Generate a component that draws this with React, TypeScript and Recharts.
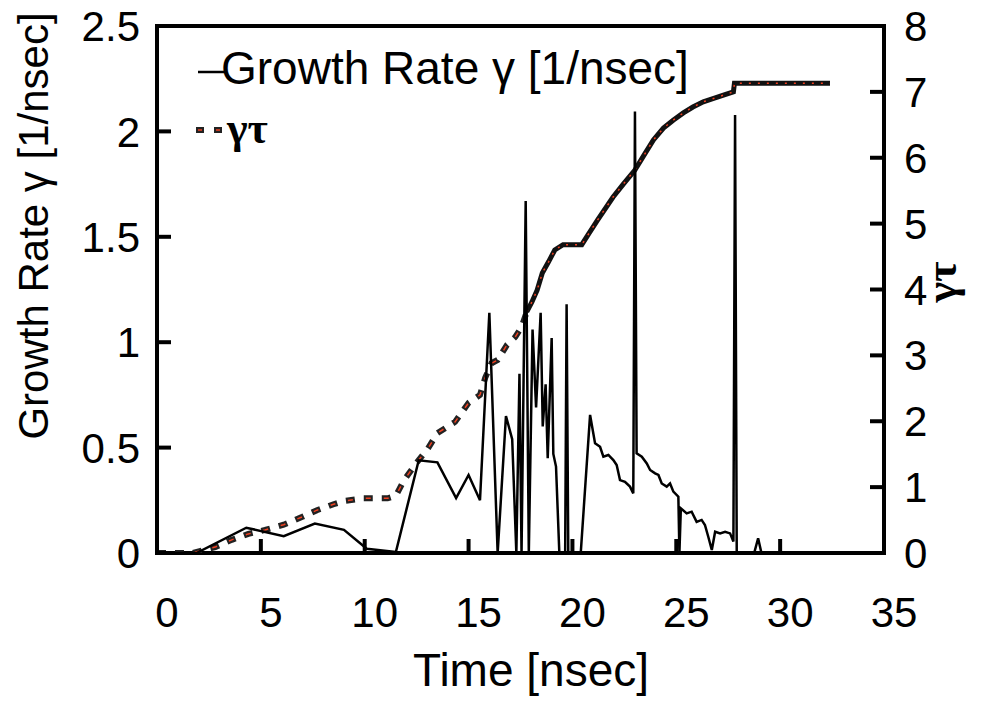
import React from 'react';
import { ComposedChart, Line, XAxis, YAxis, ReferenceArea, Legend } from 'recharts';

// Growth rate gamma [1/nsec] (left axis)
const gammaTime = [
  0, 1.9, 4.3, 6.1, 7.6, 9.0, 10.1, 11.5, 12.6, 13.5, 14.4, 15.0, 15.55, 16.0, 16.4, 16.8, 17.1, 17.3,
  17.45, 17.55, 17.75, 17.9, 18.08, 18.25, 18.47, 18.57, 18.71, 18.81, 19.0, 19.08, 19.21, 19.37, 19.65,
  19.72, 19.8, 20.4, 20.85, 21.09, 21.33, 21.49, 21.73, 21.97, 22.13, 22.29, 22.53, 22.77, 22.93, 23.01,
  23.09, 23.34, 23.58, 23.74, 23.98, 24.14, 24.3, 24.54, 24.7, 24.86, 25.1, 25.15, 25.22, 25.5, 25.74,
  25.98, 26.22, 26.38, 26.54, 26.71, 26.87, 27.11, 27.35, 27.59, 27.75, 27.83, 27.91, 28.75, 28.94, 29.1, 30.0,
];
const gammaValue = [
  0, 0, 0.12, 0.08, 0.14, 0.11, 0.02, 0.005, 0.44, 0.43, 0.26, 0.37, 0.25, 1.14, 0, 0.65, 0.54, 0,
  0.85, 0, 1.67, 0, 1.06, 0.69, 1.14, 0.6, 0.8, 0.45, 1.02, 0.47, 0.41, 0, 0,
  1.18, 0, 0, 0.655, 0.52, 0.504, 0.457, 0.465, 0.441, 0.417, 0.346, 0.338, 0.315, 0.283, 2.094,
  0.473, 0.457, 0.425, 0.394, 0.378, 0.37, 0.33, 0.315, 0.33, 0.291, 0.267, 0, 0.212, 0.188, 0.196,
  0.148, 0.157, 0.133, 0.077, 0.014, 0.101, 0.093, 0.101, 0.093, 0.054, 2.078, 0, 0, 0.07, 0, 0,
];

// gamma*tau (right axis), sparse dashed part
const gammaTauDashedTime = [
  0, 1.7, 2.8, 3.6, 4.4, 5.2, 6.1, 7.0, 7.7, 8.5, 9.0, 9.9, 11.1, 11.5, 11.9, 12.5, 13.05, 13.5,
  14.35, 15.0, 15.55, 15.8, 16.1, 16.4, 16.85, 17.25, 17.55, 17.8,
];
const gammaTauDashedValue = [
  0, 0, 0.09, 0.2, 0.29, 0.35, 0.43, 0.55, 0.65, 0.74, 0.79, 0.83, 0.83, 0.87, 1.11, 1.37, 1.59, 1.82,
  1.99, 2.28, 2.4, 2.66, 2.88, 2.93, 3.16, 3.28, 3.43, 3.66,
];
// gamma*tau (right axis), densely sampled part
const gammaTauDenseTime = [
  17.8, 18.05, 18.3, 18.55, 18.85, 19.15, 19.55, 20.45, 20.75, 21.2, 21.95, 22.45, 23.0, 23.41, 23.9,
  24.38, 24.85, 25.34, 25.8, 26.3, 26.8, 27.27, 27.75, 27.8, 32.4,
];
const gammaTauDenseValue = [
  3.66, 3.81, 3.99, 4.25, 4.42, 4.6, 4.68, 4.68, 4.83, 5.05, 5.4, 5.6, 5.81, 6.02, 6.27,
  6.45, 6.57, 6.68, 6.77, 6.85, 6.9, 6.95, 7.0, 7.13, 7.13,
];

const xTicks = [0, 5, 10, 15, 20, 25, 30, 35];
const leftTicks = [0, 0.5, 1, 1.5, 2, 2.5];
const rightTicks = [0, 1, 2, 3, 4, 5, 6, 7, 8];

const gammaLegend = 'Growth Rate γ [1/nsec]';
const gammaTauLegend = 'γτ';
const xTitle = 'Time [nsec]';
const leftTitle = 'Growth Rate γ [1/nsec]';
const rightTitle = 'γτ';

const zip = (ts: number[], vs: number[]) => ts.map((t, i) => ({ t, v: vs[i] }));
const gammaData = zip(gammaTime, gammaValue);
const gtDashedData = zip(gammaTauDashedTime, gammaTauDashedValue);
const gtDenseData = zip(gammaTauDenseTime, gammaTauDenseValue);

const SANS = '"Liberation Sans", Arial, sans-serif';
const SERIF = '"Liberation Serif", "Times New Roman", serif';
const RED = '#f04020';
const TICK_FONT = 42;

const LeftTick = (props: any) => {
  const { x, y, payload } = props;
  return (
    <g>
      <line x1={x} x2={x + 14} y1={y} y2={y} stroke="#000" strokeWidth={4} />
      <text x={x - 17} y={y} dy="0.36em" textAnchor="end" fontFamily={SANS} fontSize={TICK_FONT} fill="#000">
        {payload.value}
      </text>
    </g>
  );
};

const RightTick = (props: any) => {
  const { x, y, payload } = props;
  return (
    <g>
      <line x1={x - 14} x2={x} y1={y} y2={y} stroke="#000" strokeWidth={4} />
      <text x={x + 20} y={y} dy="0.36em" textAnchor="start" fontFamily={SANS} fontSize={TICK_FONT} fill="#000">
        {payload.value}
      </text>
    </g>
  );
};

const BottomTick = (props: any) => {
  const { x, y, payload } = props;
  return (
    <g>
      <line x1={x} x2={x} y1={y - 14} y2={y} stroke="#000" strokeWidth={4} />
      <text x={x + 10} y={y + 74} textAnchor="middle" fontFamily={SANS} fontSize={TICK_FONT} fill="#000">
        {payload.value}
      </text>
    </g>
  );
};

const LegendBox = () => (
  <svg width={999} height={704} style={{ position: 'absolute', left: 0, top: 0, overflow: 'visible' }}>
    <line x1={198} x2={226} y1={72} y2={72} stroke="#000" strokeWidth={2.5} />
    <text x={221} y={84} fontFamily={SANS} fontSize={46} fill="#000">{gammaLegend}</text>
    <line x1={196} x2={204} y1={130} y2={130} stroke="#222" strokeWidth={6} />
    <line x1={214} x2={222} y1={130} y2={130} stroke="#222" strokeWidth={6} />
    <line x1={198} x2={202} y1={130} y2={130} stroke={RED} strokeWidth={1.5} />
    <line x1={216} x2={220} y1={130} y2={130} stroke={RED} strokeWidth={1.5} />
    <text x={227} y={143} fontFamily={SERIF} fontWeight="bold" fontSize={44} fill="#000">{gammaTauLegend}</text>
  </svg>
);

export default function App() {
  return (
    <div style={{ position: 'absolute', left: 0, top: 0, width: 999, height: 704, background: '#fff' }}>
      <ComposedChart
        width={999}
        height={704}
        margin={{ top: 26, right: 15, left: 57, bottom: 51 }}
      >
        <XAxis
          dataKey="t"
          type="number"
          domain={[0, 35]}
          ticks={xTicks}
          allowDataOverflow
          height={100}
          tickSize={0}
          tickMargin={0}
          axisLine={false}
          tickLine={false}
          tick={<BottomTick />}
          interval={0}
          label={{
            content: () => (
              <text x={531} y={686} textAnchor="middle" fontFamily={SANS} fontSize={46} fill="#000">
                {xTitle}
              </text>
            ),
          }}
        />
        <YAxis
          yAxisId="left"
          orientation="left"
          type="number"
          domain={[0, 2.5]}
          ticks={leftTicks}
          allowDataOverflow
          width={100}
          tickSize={0}
          tickMargin={0}
          axisLine={false}
          tickLine={false}
          tick={<LeftTick />}
          interval={0}
          label={{
            content: () => (
              <text
                transform="translate(48, 226) rotate(-90)"
                x={0}
                y={0}
                textAnchor="middle"
                fontFamily={SANS}
                fontSize={42}
                fill="#000"
              >
                {leftTitle}
              </text>
            ),
          }}
        />
        <YAxis
          yAxisId="right"
          orientation="right"
          type="number"
          domain={[0, 8]}
          ticks={rightTicks}
          allowDataOverflow
          width={100}
          tickSize={0}
          tickMargin={0}
          axisLine={false}
          tickLine={false}
          tick={<RightTick />}
          interval={0}
          label={{
            content: () => (
              <text
                transform="translate(956, 282) rotate(-90)"
                x={0}
                y={0}
                textAnchor="middle"
                fontFamily={SERIF}
                fontWeight="bold"
                fontSize={44}
                fill="#000"
              >
                {rightTitle}
              </text>
            ),
          }}
        />
        <Line
          data={gtDashedData}
          dataKey="v"
          yAxisId="right"
          type="linear"
          dot={false}
          stroke="#222"
          strokeWidth={6}
          strokeDasharray="9 9"
          isAnimationActive={false}
        />
        <Line
          data={gtDashedData}
          dataKey="v"
          yAxisId="right"
          type="linear"
          dot={false}
          stroke={RED}
          strokeWidth={1.5}
          strokeDasharray="0 2 5 11"
          isAnimationActive={false}
        />
        <Line
          data={gtDenseData}
          dataKey="v"
          yAxisId="right"
          type="linear"
          dot={false}
          stroke="#111"
          strokeWidth={5}
          isAnimationActive={false}
        />
        <Line
          data={gtDenseData}
          dataKey="v"
          yAxisId="right"
          type="linear"
          dot={false}
          stroke={RED}
          strokeWidth={1.5}
          strokeDasharray="2 7"
          isAnimationActive={false}
        />
        <Line
          data={gammaData}
          dataKey="v"
          yAxisId="left"
          type="linear"
          dot={false}
          stroke="#000"
          strokeWidth={2.5}
          isAnimationActive={false}
        />
        <ReferenceArea
          yAxisId="left"
          x1={0}
          x2={35}
          y1={0}
          y2={2.5}
          fill="none"
          fillOpacity={0}
          stroke="#000"
          strokeWidth={4}
          ifOverflow="visible"
        />
        <Legend
          layout="vertical"
          align="center"
          verticalAlign="middle"
          wrapperStyle={{ position: 'absolute', left: 0, top: 0, width: 999, height: 704, pointerEvents: 'none' }}
          content={() => <LegendBox />}
        />
      </ComposedChart>
    </div>
  );
}
